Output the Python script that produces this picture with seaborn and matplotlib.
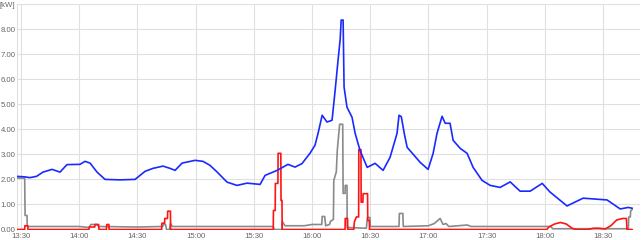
import matplotlib
matplotlib.use("Agg")
import matplotlib.pyplot as plt
import seaborn as sns
import pandas as pd

# minutes after 13:30
blue_t = [-2, 2, 4.6, 8, 11.3, 16, 20.1, 23.7, 30.4, 33, 35.6, 39.2, 43.3, 51, 58.8, 63.9, 68,
          73.2, 76.8, 79.4, 83, 89.7, 93.8, 97.4, 101, 106.2, 111.3, 116.5, 123.2, 125.8, 132,
          137.6, 141.2, 144.8, 149, 151.5, 153.1, 155.2, 157.7, 160.3, 161.9, 163.4, 164.5, 165,
          166, 166.5, 168, 170.6, 172.2, 174.7, 178.4, 182.5, 186.6, 190.2, 193.8, 194.8, 196,
          197.5, 199, 205.7, 209.8, 212.4, 214.4, 217, 218.6, 221.1, 222.7, 226.3, 229.9, 233,
          237.6, 241.8, 246.9, 252.1, 257.2, 262.4, 268.6, 272.7, 281.4, 289.7, 298.5, 302,
          308.8, 312.9, 315]
blue_v = [2.12, 2.10, 2.07, 2.12, 2.29, 2.40, 2.29, 2.59, 2.60, 2.72, 2.65, 2.29, 2.00, 1.98, 2.00,
          2.32, 2.44, 2.53, 2.44, 2.36, 2.65, 2.76, 2.72, 2.56, 2.30, 1.89, 1.76, 1.85, 1.80, 2.16,
          2.36, 2.60, 2.49, 2.63, 3.05, 3.36, 3.84, 4.56, 4.29, 4.36, 5.56, 6.76, 7.60, 8.36,
          8.36, 5.68, 4.88, 4.48, 3.84, 3.16, 2.48, 2.64, 2.36, 2.88, 3.84, 4.56, 4.50,
          3.84, 3.28, 2.68, 2.40, 3.04, 3.84, 4.52, 4.24, 4.24, 3.56, 3.24, 3.04, 2.48,
          1.96, 1.76, 1.68, 1.90, 1.53, 1.53, 1.84, 1.49, 0.94, 1.25, 1.20, 1.18,
          0.82, 0.88, 0.85]

gray_t = [-2, 1.9, 2.1, 3.1, 3.2, 30, 35, 36, 39, 40, 60, 73, 73.5, 74.5, 75, 76.5, 77, 78, 100,
          130, 130.5, 134.5, 134.6, 136, 146, 150, 155, 155.2, 156.5, 157, 159, 159.5, 161, 161.2,
          162.5, 163, 164.2, 165.8, 166, 167, 167.1, 168, 168.1, 178, 178.5, 179.8, 180, 194.8,
          195, 196.8, 197, 210, 213, 216, 217.5, 219, 220.5, 230, 232, 273, 274, 313, 313.2,
          314, 314.2, 315]
gray_v = [2.05, 2.05, 0.56, 0.56, 0.12, 0.12, 0.08, 0.20, 0.20, 0.12, 0.10, 0.12, 0.20, 0.20, 0.0,
          0.0, 0.25, 0.12, 0.12, 0.12, 0.0, 0.0, 0.33, 0.15, 0.15, 0.20, 0.20, 0.52, 0.52, 0.15,
          0.20, 0.33, 0.40, 1.96, 2.30, 3.16, 4.20, 4.20, 1.44, 1.44, 1.76, 1.76, 0.08, 0.05,
          0.48, 0.48, 0.12, 0.12, 0.64, 0.64, 0.12, 0.15, 0.24, 0.44, 0.20, 0.24, 0.12, 0.18,
          0.12, 0.12, 0.03, 0.03, 0.50, 0.50, 0.75, 0.80]

red_t = [-2, 1.9, 2.0, 3.5, 3.6, 35, 35.2, 38, 38.2, 40, 40.2, 44, 44.2, 45.3, 45.4, 72.5, 72.6,
         74, 74.1, 75.5, 75.6, 77, 77.1, 130, 130.1, 131, 131.1, 132.4, 132.5, 133.9, 134, 134.5,
         134.6, 167, 167.1, 168.3, 168.4, 171.5, 171.8, 172.8, 174, 174.1, 175.2, 175.3, 176.2,
         176.3, 178.6, 178.7, 179.5, 179.6, 271, 272, 275, 278, 281, 284, 286, 292, 295, 298,
         301, 304, 307, 310, 312, 312.3, 315]
red_v = [0, 0, 0.15, 0.15, 0, 0, 0.10, 0.10, 0.20, 0.20, 0, 0, 0.20, 0.20, 0, 0, 0.25,
         0.25, 0.44, 0.44, 0.73, 0.73, 0, 0, 0.76, 0.76, 1.84, 1.84, 3.04, 3.04, 1.16, 1.16,
         0, 0, 0.44, 0.44, 0, 0, 0.30, 0.50, 0.50, 3.19, 3.19, 1.09, 1.09,
         1.43, 1.43, 0.36, 0.36, 0, 0, 0.10, 0.22, 0.28, 0.22, 0.05, 0, 0, 0.05, 0.05,
         0.02, 0.15, 0.38, 0.44, 0.44, 0, 0]

x_ticks = [0, 30, 60, 90, 120, 150, 180, 210, 240, 270, 300]
x_labels = ["13:30", "14:00", "14:30", "15:00", "15:30", "16:00", "16:30", "17:00", "17:30",
            "18:00", "18:30"]
y_ticks = [0, 1, 2, 3, 4, 5, 6, 7, 8, 9]
y_labels = ["0.00", "1.00", "2.00", "3.00", "4.00", "5.00", "6.00", "7.00", "8.00", "[kW]"]

sns.set_style("white")
plt.rcParams["font.family"] = ["Liberation Sans", "DejaVu Sans"]

fig = plt.figure(figsize=(6.42, 2.40), dpi=100)
ax = fig.add_axes([17 / 642, 10.5 / 240, 623 / 642, 225.5 / 240])

gray_df = pd.DataFrame({"t": gray_t, "v": gray_v})
red_df = pd.DataFrame({"t": red_t, "v": red_v})
blue_df = pd.DataFrame({"t": blue_t, "v": blue_v})

sns.lineplot(data=gray_df, x="t", y="v", color="#8a8a8a", linewidth=1.2,
             estimator=None, sort=False, ax=ax, zorder=3)
sns.lineplot(data=red_df, x="t", y="v", color="#ff1414", linewidth=1.2,
             estimator=None, sort=False, ax=ax, zorder=4)
sns.lineplot(data=blue_df, x="t", y="v", color="#1a2aff", linewidth=1.2,
             estimator=None, sort=False, ax=ax, zorder=5)

ax.set_xlim(-2.06, 319)
ax.set_ylim(0, 9)
ax.set_xticks(x_ticks)
ax.set_xticklabels(x_labels)
ax.set_yticks(y_ticks)
ax.set_yticklabels(y_labels)
ax.set_xlabel("")
ax.set_ylabel("")
ax.grid(True, color="#e0e0e0", linewidth=0.8)
ax.set_axisbelow(True)
for s in ["top", "right", "bottom"]:
    ax.spines[s].set_visible(False)
ax.spines["left"].set_color("#e0e0e0")
ax.spines["left"].set_linewidth(0.8)
ax.tick_params(axis="x", length=0, labelsize=5.6, labelcolor="#666666", pad=2.2)
ax.tick_params(axis="y", length=0, labelsize=5.6, labelcolor="#666666", pad=1)
for lab in ax.get_yticklabels():
    lab.set_horizontalalignment("right")

fig.savefig("out.png", dpi=100)
